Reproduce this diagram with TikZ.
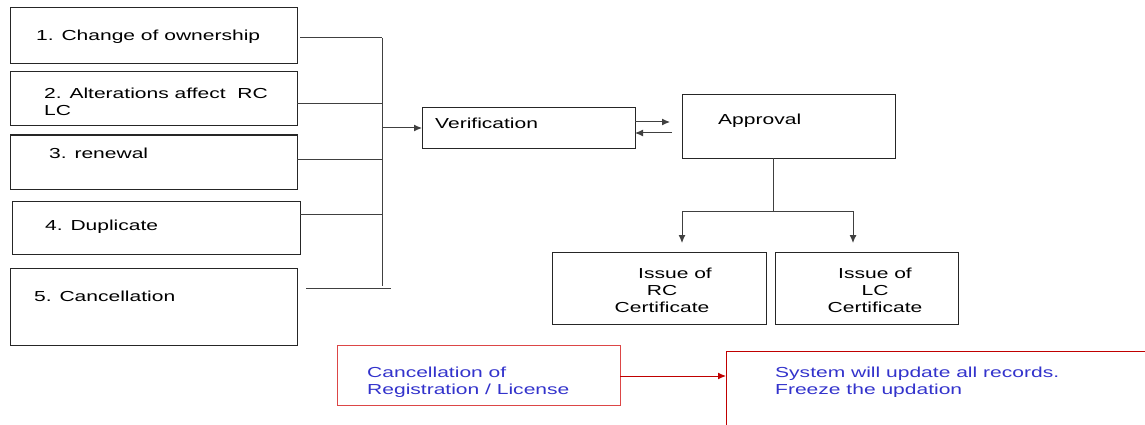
\documentclass[tikz,border=0pt]{standalone}
\usepackage{fontspec}
\setmainfont[FakeStretch=1.45]{Liberation Sans}
\usetikzlibrary{arrows.meta}
\definecolor{txtblue}{RGB}{51,51,204}
\definecolor{redline}{RGB}{192,0,0}
\definecolor{redbox}{RGB}{220,70,70}
\begin{document}
\begin{tikzpicture}[x=1pt,y=-1pt,
  box/.style={draw=black!85, line width=1pt, inner sep=0pt, outer sep=0pt, anchor=north west},
  lbl/.style={font=\fontsize{14.5}{17}\selectfont, inner sep=0pt, align=left, yshift=-1.5pt},
  conn/.style={draw=black!75, line width=1pt},
  arr/.style={conn, -{Latex[length=8pt,width=7pt]}},
  rarr/.style={draw=redline, line width=1pt, -{Latex[length=8pt,width=7pt]}}]
\clip (0,0) rectangle (1145,425);
\fill[white] (0,0) rectangle (1145,425);
% left boxes
\node[box, minimum width=287pt, minimum height=56pt] (b1) at (10,8) {};
\node[box, minimum width=287pt, minimum height=54pt] (b2) at (10,72) {};
\node[box, minimum width=287pt, minimum height=54pt] (b3) at (10,135) {};
\node[box, minimum width=288pt, minimum height=53pt] (b4) at (12,201) {};
\node[box, minimum width=287pt, minimum height=77pt] (b5) at (10,268) {};
\node[lbl, anchor=west] (t1) at (36,35) {1. Change of ownership};
\node[lbl, anchor=west] (t2) at (44,100) {2. Alterations affect\ \ RC\\LC};
\node[lbl, anchor=west] (t3) at (49,152) {3. renewal};
\node[lbl, anchor=west] (t4) at (45,225) {4. Duplicate};
\node[lbl, anchor=west] (t5) at (34,295) {5. Cancellation};
% bus
\coordinate (j1) at (382,38);
\coordinate (j2) at (382,104);
\coordinate (j3) at (382,159);
\coordinate (j4) at (382,214);
\coordinate (jb) at (382,286);
\coordinate (ja) at (382,128);
\coordinate (c5a) at (306,288);
\coordinate (c5b) at (391,288);
\draw[conn] (j1) -- (jb);
\draw[conn] (j1 -| b1.east) ++(3,0) -- (j1);
\draw[conn] (j2 -| b2.east) -- (j2);
\draw[conn] (j3 -| b3.east) -- (j3);
\draw[conn] (j4 -| b4.east) -- (j4);
\draw[conn] (c5a) -- (c5b);
% verification / approval
\node[box, minimum width=213pt, minimum height=40pt] (ver) at (422,108) {};
\node[lbl, anchor=west] (tver) at (435,122) {Verification};
\node[box, minimum width=213pt, minimum height=63pt] (app) at (682,95) {};
\node[lbl, anchor=west] (tapp) at (718,119) {Approval};
\draw[arr] (ja) -- (ja -| ver.west);
\coordinate (va) at (670,122);
\coordinate (vb) at (672,133);
\draw[arr] (va -| ver.east) -- (va);
\draw[arr] (vb) -- (vb -| ver.east);
% issue boxes
\node[box, minimum width=214pt, minimum height=72pt] (irc) at (552,252) {};
\node[box, minimum width=183pt, minimum height=72pt] (ilc) at (775,252) {};
\node[lbl, align=center] (tirc) at (662,289) {\hspace*{26pt}Issue of\\RC\\Certificate};
\node[lbl, align=center] (tilc) at (875,289) {Issue of\\LC\\Certificate};
\coordinate (ap) at (773,211);
\coordinate (sl) at (682,211);
\coordinate (sr) at (853,211);
\coordinate (el) at (682,243);
\coordinate (er) at (853,243);
\draw[conn] (ap |- app.south) -- (ap);
\draw[conn] (sl) -- (sr);
\draw[arr] (sl) -- (el);
\draw[arr] (sr) -- (er);
% bottom red part
\node[draw=redbox, line width=1pt, inner sep=0pt, outer sep=0pt, anchor=north west, minimum width=283pt, minimum height=60pt] (can) at (337,345) {};
\node[lbl, anchor=west, text=txtblue] (tcan) at (367,380.5) {Cancellation of\\Registration / License};
\node[draw=redline, line width=1pt, inner sep=0pt, outer sep=0pt, anchor=north west, minimum width=440pt, minimum height=120pt] (sys) at (726,351) {};
\node[lbl, anchor=west, text=txtblue] (tsys) at (775,380.5) {System will update all records.\\Freeze the updation};
\coordinate (ca) at (620,376);
\draw[rarr] (ca) -- (ca -| sys.west);
\end{tikzpicture}
\end{document}
